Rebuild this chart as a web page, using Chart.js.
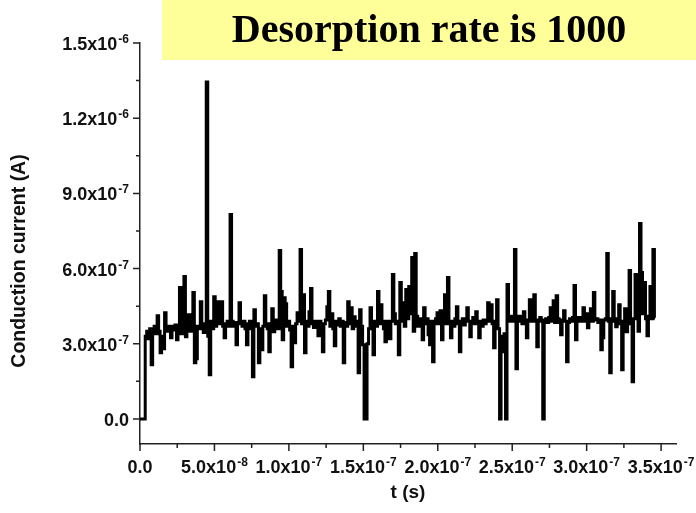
<!DOCTYPE html>
<html>
<head>
<meta charset="utf-8">
<script src="https://cdn.jsdelivr.net/npm/chart.js@4.4.1/dist/chart.umd.min.js"></script>
<style>
  html, body { margin: 0; padding: 0; background: #ffffff; }
  canvas { display: block; }
</style>
</head>
<body>
<canvas id="chart" width="696" height="513"></canvas>
<script>
// Sampling interval of the trace (s) and unit of the stored current values (A)
const TIME_STEP = 1e-9;
const CURRENT_UNIT = 1e-7;

// Conduction current, one sample per nanosecond, in units of 1e-7 A
const current = [
  0, 0, 0, 0, 3.3, 3.5, 3.2, 3.6, 2.16, 3.5,
  3.7, 3.4, 4.12, 3.5, 2.64, 3.3, 2.8, 4.24, 3.5, 3.7,
  3.5, 3.24, 3.7, 3.55, 3.75, 3.16, 3.7, 5.24, 3.4, 3.8,
  5.68, 3.28, 3.8, 4.16, 3.5, 3.8, 5.04, 2.24, 2.4, 3.7,
  3.6, 4.68, 3.7, 3.45, 3.8, 13.44, 3.3, 1.76, 3.9, 3.6,
  4.88, 3.7, 3.9, 4.68, 3.8, 4.68, 3.7, 3.24, 3.8, 3.9,
  3.7, 8.16, 3.9, 3.7, 3.85, 2.96, 3.8, 4.64, 3.9, 3.7,
  3.9, 3.6, 2.96, 3.8, 3.9, 3.6, 1.68, 4.36, 3.7, 3.8,
  2.24, 3.6, 2.76, 3.7, 4.92, 3.8, 3.6, 2.68, 3.8, 4.4,
  3.48, 3.8, 3.95, 3.6, 6.72, 5.08, 3.16, 4.84, 4.6, 3.7,
  3.9, 3.55, 2.08, 3.7, 3.04, 3.8, 4.24, 3.9, 6.76, 3.8,
  4.96, 2.64, 3.9, 3.7, 4.28, 5.2, 3.8, 3.65, 3.9, 3.7,
  3.32, 3.9, 3.7, 2.68, 3.8, 3.95, 4.48, 5.08, 3.7, 4.2,
  3.6, 2.92, 3.9, 3.75, 4.0, 3.7, 3.9, 2.24, 3.85, 3.7,
  4.68, 3.8, 4.44, 3.6, 4.08, 3.7, 3.9, 1.84, 4.36, 3.7,
  2.96, 0, 0, 3.0, 3.6, 4.44, 3.8, 2.56, 3.9, 3.7,
  5.08, 3.8, 4.56, 3.9, 3.6, 3.08, 3.9, 3.7, 3.2, 3.9,
  5.76, 4.2, 3.8, 3.9, 2.56, 5.44, 3.9, 4.64, 3.7, 5.16,
  4.0, 5.28, 4.2, 6.44, 3.5, 6.6, 4.1, 3.7, 4.0, 3.8,
  3.16, 4.44, 3.8, 4.0, 3.36, 2.96, 3.9, 2.28, 3.8, 4.0,
  4.24, 3.8, 4.32, 3.16, 3.9, 4.96, 3.8, 5.64, 3.9, 3.24,
  3.9, 3.7, 4.0, 4.48, 3.8, 2.68, 3.9, 4.0, 3.75, 3.95,
  4.44, 3.9, 3.28, 3.9, 4.05, 3.8, 4.28, 3.9, 3.24, 3.9,
  3.7, 3.95, 3.8, 3.9, 4.64, 3.9, 4.56, 3.8, 2.84, 3.9,
  4.76, 3.6, 0, 3.3, 2.68, 3.4, 0, 5.36, 3.9, 4.1,
  3.9, 4.0, 6.76, 2.0, 3.9, 4.1, 3.95, 3.8, 4.28, 3.9,
  3.24, 3.95, 4.76, 3.9, 4.3, 4.96, 3.9, 2.88, 3.95, 4.05,
  3.9, 0, 3.95, 4.0, 3.85, 4.05, 4.44, 3.9, 4.72, 3.85,
  4.92, 4.0, 3.85, 3.36, 3.95, 4.32, 3.9, 2.28, 3.85, 4.0,
  3.9, 4.05, 5.32, 3.16, 3.95, 4.05, 3.9, 4.0, 4.44, 3.9,
  4.2, 3.64, 4.0, 4.4, 3.9, 5.04, 3.95, 4.0, 3.85, 3.95,
  2.76, 3.24, 3.95, 4.0, 6.6, 3.9, 1.84, 4.0, 5.08, 3.9,
  3.68, 4.0, 4.56, 3.8, 1.96, 3.9, 4.4, 3.48, 4.1, 5.92,
  3.8, 1.48, 4.0, 5.76, 4.1, 3.5, 7.8, 5.84, 4.2, 5.44,
  4.0, 3.32, 4.1, 5.28, 4.0, 6.76, 4.04
];

// Axis ranges
const xRange = [0, 3.6e-7];
const yRange = [-1e-7, 1.5e-6];

// Major ticks with their labels (mantissa plus superscript exponent)
const xTickValues = [0, 5e-8, 1e-7, 1.5e-7, 2e-7, 2.5e-7, 3e-7, 3.5e-7];
const xTickMantissas = ['0.0', '5.0x10', '1.0x10', '1.5x10', '2.0x10', '2.5x10', '3.0x10', '3.5x10'];
const xTickExponents = ['', '-8', '-7', '-7', '-7', '-7', '-7', '-7'];
const xMinorValues = [2.5e-8, 7.5e-8, 1.25e-7, 1.75e-7, 2.25e-7, 2.75e-7, 3.25e-7];

const yTickValues = [0, 3e-7, 6e-7, 9e-7, 1.2e-6, 1.5e-6];
const yTickMantissas = ['0.0', '3.0x10', '6.0x10', '9.0x10', '1.2x10', '1.5x10'];
const yTickExponents = ['', '-7', '-7', '-7', '-6', '-6'];
const yMinorValues = [1.5e-7, 4.5e-7, 7.5e-7, 1.05e-6, 1.35e-6];

const xTitle = 't (s)';
const yTitle = 'Conduction current (A)';
const bannerText = 'Desorption rate is 1000';

const points = current.map((v, i) => ({ x: i * TIME_STEP, y: v * CURRENT_UNIT }));

const AXIS_COLOR = '#222222';
const SANS = '"Liberation Sans", Arial, sans-serif';
const SERIF = '"Liberation Serif", "Times New Roman", serif';

function drawSupLabel(ctx, mant, exp, x, y, align) {
  ctx.font = 'bold 18px ' + SANS;
  const wm = ctx.measureText(mant).width;
  ctx.font = 'bold 12px ' + SANS;
  const we = exp ? ctx.measureText(exp).width + 1 : 0;
  const total = wm + we;
  const start = align === 'right' ? x - total : x - total / 2;
  ctx.textAlign = 'left';
  ctx.textBaseline = 'alphabetic';
  ctx.font = 'bold 18px ' + SANS;
  ctx.fillText(mant, start, y);
  if (exp) {
    ctx.font = 'bold 12px ' + SANS;
    ctx.fillText(exp, start + wm + 1, y - 7);
  }
}

// Draws tick marks, tick labels, axis titles and the banner box
const axisDecor = {
  id: 'axisDecor',
  afterDraw(chart) {
    const ctx = chart.ctx;
    const xs = chart.scales.x;
    const ys = chart.scales.y;
    const area = chart.chartArea;
    ctx.save();
    ctx.strokeStyle = AXIS_COLOR;
    ctx.lineWidth = 1.5;
    ctx.beginPath();
    yTickValues.forEach(v => {
      const p = ys.getPixelForValue(v);
      ctx.moveTo(area.left - 7, p); ctx.lineTo(area.left, p);
    });
    yMinorValues.forEach(v => {
      const p = ys.getPixelForValue(v);
      ctx.moveTo(area.left - 4, p); ctx.lineTo(area.left, p);
    });
    xTickValues.forEach(v => {
      const p = xs.getPixelForValue(v);
      ctx.moveTo(p, area.bottom); ctx.lineTo(p, area.bottom + 7);
    });
    xMinorValues.forEach(v => {
      const p = xs.getPixelForValue(v);
      ctx.moveTo(p, area.bottom); ctx.lineTo(p, area.bottom + 4);
    });
    ctx.stroke();

    ctx.fillStyle = '#111111';
    yTickValues.forEach((v, i) => {
      const p = ys.getPixelForValue(v);
      drawSupLabel(ctx, yTickMantissas[i], yTickExponents[i], area.left - 11, p + 7, 'right');
    });
    xTickValues.forEach((v, i) => {
      const p = xs.getPixelForValue(v);
      drawSupLabel(ctx, xTickMantissas[i], xTickExponents[i], p, area.bottom + 29, 'center');
    });

    // axis titles
    ctx.textAlign = 'center';
    ctx.textBaseline = 'middle';
    ctx.font = 'bold 19px ' + SANS;
    ctx.fillText(xTitle, (area.left + area.right) / 2, 493);
    ctx.save();
    ctx.font = 'bold 19.5px ' + SANS;
    ctx.translate(20, 261);
    ctx.rotate(-Math.PI / 2);
    ctx.fillText(yTitle, 0, 0);
    ctx.restore();

    // banner
    ctx.fillStyle = '#FFFF99';
    ctx.fillRect(162, 0, chart.width - 162, 60);
    ctx.fillStyle = '#000000';
    ctx.font = 'bold 40px ' + SERIF;
    ctx.textAlign = 'center';
    ctx.textBaseline = 'alphabetic';
    ctx.fillText(bannerText, 429, 42);
    ctx.restore();
  }
};

new Chart(document.getElementById('chart'), {
  type: 'line',
  data: {
    datasets: [{
      data: points,
      borderColor: '#000000',
      borderWidth: 3,
      borderJoinStyle: 'miter',
      stepped: 'middle',
      pointRadius: 0,
      fill: false
    }]
  },
  options: {
    responsive: false,
    animation: false,
    devicePixelRatio: 1,
    parsing: false,
    layout: { padding: { top: 43, right: 20, left: 0, bottom: 0 } },
    plugins: { legend: { display: false }, tooltip: { enabled: false }, title: { display: false } },
    scales: {
      x: {
        type: 'linear',
        min: xRange[0],
        max: xRange[1],
        grid: { display: false },
        border: { display: true, color: AXIS_COLOR, width: 1.5 },
        ticks: { display: false },
        afterFit(s) { s.height = 69; }
      },
      y: {
        type: 'linear',
        min: yRange[0],
        max: yRange[1],
        grid: { display: false },
        border: { display: true, color: AXIS_COLOR, width: 1.5 },
        ticks: { display: false },
        afterFit(s) { s.width = 140; }
      }
    }
  },
  plugins: [axisDecor]
});
</script>
</body>
</html>
